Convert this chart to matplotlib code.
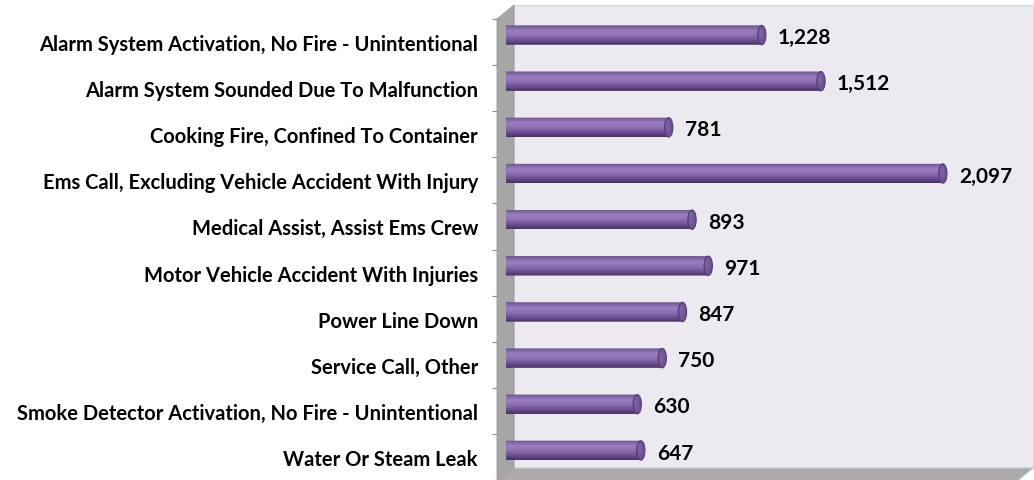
import matplotlib
matplotlib.use('Agg')
import matplotlib.pyplot as plt
import numpy as np
from matplotlib.patches import Polygon, Ellipse, PathPatch
from matplotlib.path import Path
from matplotlib.colors import LinearSegmentedColormap

# Incident types and their counts
categories = [
    'Alarm System Activation, No Fire - Unintentional',
    'Alarm System Sounded Due To Malfunction',
    'Cooking Fire, Confined To Container',
    'Ems Call, Excluding Vehicle Accident With Injury',
    'Medical Assist, Assist Ems Crew',
    'Motor Vehicle Accident With Injuries',
    'Power Line Down',
    'Service Call, Other',
    'Smoke Detector Activation, No Fire - Unintentional',
    'Water Or Steam Leak',
]
counts = [1228, 1512, 781, 2097, 893, 971, 847, 750, 630, 647]

W, H = 1034, 481
fig = plt.figure(figsize=(W / 100, H / 100), dpi=100)
fig.patch.set_facecolor('white')

# background axes in pixel units for the 3d box (walls and floor)
bg = fig.add_axes([0, 0, 1, 1])
bg.set_xlim(0, W)
bg.set_ylim(H, 0)
bg.axis('off')
bg.add_patch(Polygon([(514, 6), (1033, 6), (1033, 469), (514, 469)],
                     closed=True, facecolor='#ECE9F0', edgecolor='#dcd8e0', lw=0.8))
bg.add_patch(Polygon([(514, 469), (1033, 469), (1016, 483), (497, 483)],
                     closed=True, facecolor='#ADA9AD', edgecolor='#c8c4c8', lw=0.8))
bg.add_patch(Polygon([(497, 20), (514, 6), (514, 469), (497, 483)],
                     closed=True, facecolor='#A6A6A6', edgecolor='#9a9a9a', lw=0.6))

# front plane: category labels and boundary ticks
front = fig.add_axes([497 / W, 0, 0.001, (H - 20) / H])
front.set_facecolor('none')
front.set_ylim(len(categories) - 0.5, -0.5)
front.set_xticks([])
for s in front.spines.values():
    s.set_visible(False)
front.set_yticks(range(len(categories)))
front.set_yticklabels(categories, fontsize=14.5, fontweight='bold', family='Lato')
front.set_yticks(np.arange(-0.5, len(categories), 1.0), minor=True)
front.tick_params(axis='y', which='major', length=0, pad=13.7)
front.tick_params(axis='y', which='minor', length=3.6, color='#8c8c8c', width=0.8)

# bar plane, set back a little from the front plane
ax = fig.add_axes([506 / W, 6.5 / H, (1033 - 506) / W, (474.5 - 13) / H])
ax.set_facecolor('none')
ax.set_xlim(0, 2530)
ax.set_ylim(len(categories) - 0.5, -0.5)
ax.axis('off')

cmap = LinearSegmentedColormap.from_list(
    'cyl', [(0.0, '#5a4479'), (0.08, '#7c60a2'), (0.3, '#9a80bf'),
            (0.55, '#8b6eb0'), (0.8, '#684c8d'), (1.0, '#463160')])
grad = np.linspace(0, 1, 64).reshape(-1, 1)

bar_h = 0.42
cap_w = 40
for i, v in enumerate(counts):
    top, bot = i - bar_h / 2, i + bar_h / 2
    t = np.linspace(np.pi / 2, 3 * np.pi / 2, 30)
    left_x = cap_w / 2 * np.cos(t)
    left_y = i - bar_h / 2 * np.sin(t)
    verts = list(zip(left_x, left_y)) + [(v, bot), (v, top), (left_x[0], left_y[0])]
    clip = PathPatch(Path(verts, closed=False), facecolor='none', edgecolor='none')
    ax.add_patch(clip)
    im = ax.imshow(grad, cmap=cmap, aspect='auto', extent=[-cap_w / 2, v, bot, top],
                   interpolation='bilinear', zorder=2)
    im.set_clip_path(clip)
    ax.add_patch(Ellipse((v, i), cap_w, bar_h, facecolor='#6f5395',
                         edgecolor='#553e77', lw=0.8, zorder=3))
    ax.add_patch(Ellipse((v - 4, i - 0.03), cap_w * 0.5, bar_h * 0.6,
                         facecolor='#8468a8', edgecolor='none', alpha=0.6, zorder=3))
    ax.annotate(f'{v:,}', (v, i), xytext=(11.5, -1.5), textcoords='offset points',
                ha='left', va='center', fontsize=15, fontweight='bold',
                family='Lato', color='black', zorder=4)

fig.savefig('out.png', dpi=100)
